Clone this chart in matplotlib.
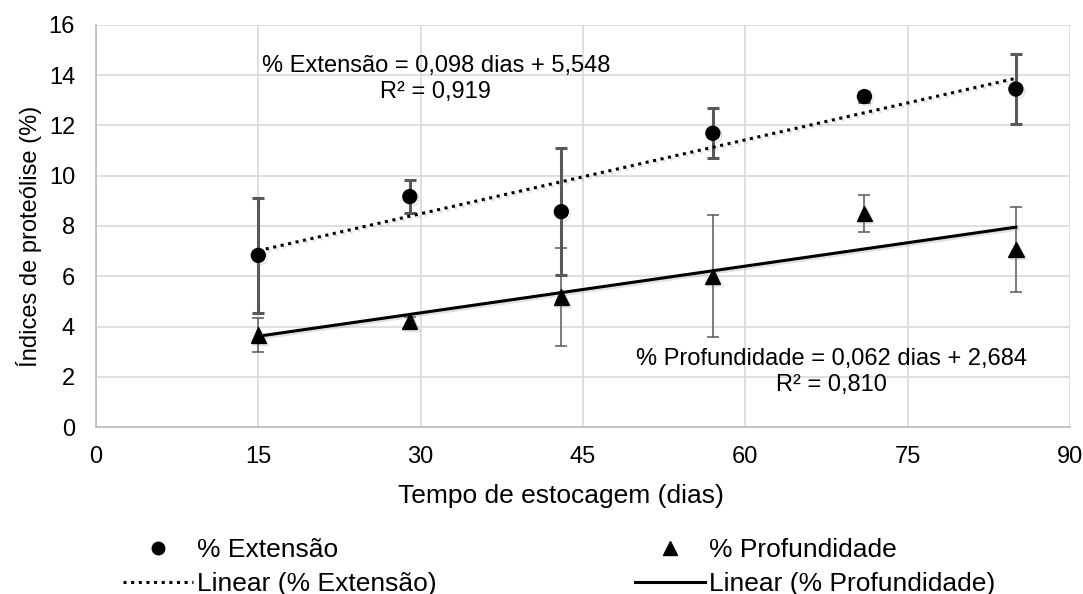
import matplotlib
matplotlib.use("Agg")
import matplotlib.pyplot as plt
import matplotlib.patheffects as pe
from matplotlib.lines import Line2D
import numpy as np

plt.rcParams['font.family'] = ['Liberation Sans', 'DejaVu Sans']

# Storage days
dias = [15, 29, 43, 57, 71, 85]

# % Extensão: means and standard deviations
extensao = [6.83, 9.17, 8.57, 11.69, 13.15, 13.45]
extensao_dp = [2.30, 0.67, 2.52, 1.00, 0.20, 1.40]

# % Profundidade: means and standard deviations
profundidade = [3.66, 4.22, 5.17, 6.00, 8.50, 7.06]
profundidade_dp = [0.66, 0.15, 1.95, 2.42, 0.75, 1.69]

# Linear fits (slope, intercept) and R²
fit_ext = (0.098, 5.548, 0.919)
fit_prof = (0.062, 2.684, 0.810)

x_ticks = [0, 15, 30, 45, 60, 75, 90]
y_ticks = [0, 2, 4, 6, 8, 10, 12, 14, 16]

FS = 17        # ticks and equation labels
FS_TITLE = 19  # x-axis title and legend

fig = plt.figure(figsize=(10.83, 5.94), dpi=100)
ax = fig.add_axes([0.0886, 0.2811, 0.8994, 0.6769])

err_col = '#595959'
shadow = [pe.SimpleLineShadow(offset=(1.5, -1.5), shadow_color='0.55', alpha=0.25), pe.Normal()]

ax.errorbar(dias, extensao, yerr=extensao_dp, fmt='none', ecolor=err_col,
            elinewidth=2.2, capsize=4.5, capthick=2.2, zorder=3)
ax.errorbar(dias, profundidade, yerr=profundidade_dp, fmt='none', ecolor=err_col,
            elinewidth=1.1, capsize=4.5, capthick=1.1, zorder=3)

xf = np.array([dias[0], dias[-1]])
ax.plot(xf, fit_ext[0] * xf + fit_ext[1], color='black', lw=2.2,
        linestyle=(0, (1, 1.5)), zorder=4, path_effects=shadow)
ax.plot(xf, fit_prof[0] * xf + fit_prof[1], color='black', lw=2.2,
        linestyle='-', zorder=4, path_effects=shadow)

ax.plot(dias, extensao, 'o', color='black', ms=10, zorder=5, path_effects=shadow)
ax.plot(dias, profundidade, '^', color='black', ms=11, zorder=5, path_effects=shadow)

ax.text(31.4, 13.85,
        f"% Extensão = {fit_ext[0]:.3f} dias + {fit_ext[1]:.3f}\nR² = {fit_ext[2]:.3f}".replace('.', ','),
        ha='center', va='center', fontsize=FS, linespacing=1.25)
ax.text(68.0, 2.2,
        f"% Profundidade = {fit_prof[0]:.3f} dias + {fit_prof[1]:.3f}\nR² = {fit_prof[2]:.3f}".replace('.', ','),
        ha='center', va='center', fontsize=FS, linespacing=1.25)

ax.set_xlim(0, 90)
ax.set_ylim(0, 16)
ax.set_xticks(x_ticks)
ax.set_yticks(y_ticks)
ax.tick_params(axis='both', length=0, labelsize=FS, colors='black')
ax.tick_params(axis='x', pad=14)
ax.tick_params(axis='y', pad=15)
ax.grid(True, color='#d9d9d9', lw=1.2)
ax.set_axisbelow(True)
for s in ['top', 'right']:
    ax.spines[s].set_visible(False)
for s in ['left', 'bottom']:
    ax.spines[s].set_color('#bfbfbf')
    ax.spines[s].set_linewidth(1.3)

fig.text(561 / 1083, 1 - 496 / 594, 'Tempo de estocagem (dias)', fontsize=FS_TITLE,
         ha='center', va='center')
fig.text(29 / 1083, 1 - 236 / 594, 'Índices de proteólise (%)', fontsize=FS,
         ha='center', va='center', rotation=90)

h_ext = Line2D([], [], color='black', marker='o', ms=9, ls='none')
h_ext_l = Line2D([], [], color='black', lw=2.2, ls=(0, (1, 1.5)))
h_prof = Line2D([], [], color='black', marker='^', ms=9.5, ls='none')
h_prof_l = Line2D([], [], color='black', lw=2.2, ls='-')

leg_kw = dict(loc='center left', frameon=False, fontsize=FS_TITLE, handlelength=2.65,
              handletextpad=0.15, labelspacing=0.36, borderaxespad=0, borderpad=0)
fig.legend([h_ext, h_ext_l], ['% Extensão', 'Linear (% Extensão)'],
           bbox_to_anchor=(123 / 1083, 1 - 567 / 594), **leg_kw)
fig.legend([h_prof, h_prof_l], ['% Profundidade', 'Linear (% Profundidade)'],
           bbox_to_anchor=(635 / 1083, 1 - 567 / 594), **leg_kw)

fig.savefig('out.png', dpi=100)
